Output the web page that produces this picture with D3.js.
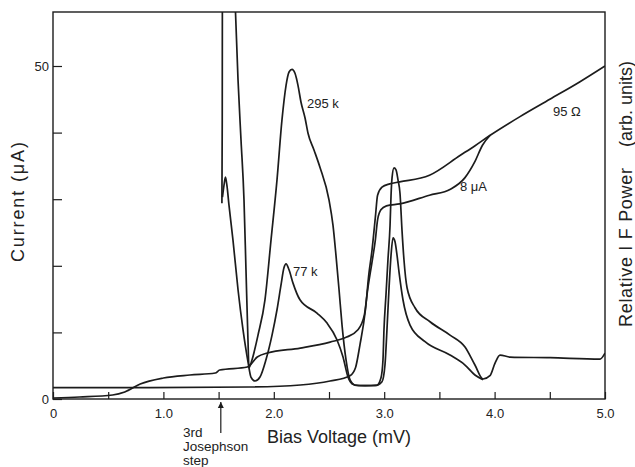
<!DOCTYPE html>
<html>
<head>
<meta charset="utf-8">
<script src="https://cdn.jsdelivr.net/npm/d3@7"></script>
<style>
  body { margin: 0; background: #fff; }
  svg { display: block; }
  text { font-family: 'Liberation Sans', Arial, sans-serif; fill: #222; }
</style>
</head>
<body>
<div id="chart"></div>
<script>
// bias voltage (mV) vs current (uA) / relative IF power
const voltageTicks = [0, 0.5, 1, 1.5, 2, 2.5, 3, 3.5, 4, 4.5, 5];
const voltageLabels = ['0', '', '1.0', '', '2.0', '', '3.0', '', '4.0', '', '5.0'];
const currentTicks = [0, 10, 20, 30, 40, 50];
const currentLabels = ['0', '', '', '', '', '50'];

// unpumped I-V curve
const ivUnpumped = [
  [0, 1.7], [0.88, 1.7], [1.78, 1.8], [2.24, 2.1], [2.51, 2.7], [2.69, 3.5],
  [2.74, 4.7], [2.78, 8.1], [2.83, 13.4], [2.86, 18.6], [2.89, 22.4], [2.92, 27.3],
  [2.94, 30.6], [2.98, 31.8], [3.05, 32.3], [3.14, 32.6], [3.41, 33.6], [3.69, 36.6],
  [3.82, 38.0], [3.96, 39.6], [4.23, 42.4], [4.50, 45.0], [4.77, 47.6], [5.0, 50.0]
];

// pumped I-V curve (8 uA)
const ivPumped = [
  [0, 0.15], [0.24, 0.3], [0.54, 0.6], [0.65, 1.05], [0.79, 2.25], [1.0, 3.15],
  [1.24, 3.6], [1.47, 3.9], [1.51, 4.35], [1.76, 4.8], [1.85, 6.3], [1.94, 6.9],
  [2.24, 7.65], [2.51, 8.55], [2.66, 9.3], [2.76, 10.35], [2.82, 12.6], [2.85, 16.4],
  [2.89, 20.6], [2.92, 23.9], [2.94, 26.9], [2.97, 28.4], [3.02, 29.0], [3.14, 29.3],
  [3.41, 30.6], [3.60, 31.5], [3.73, 33.2], [3.82, 35.6], [3.89, 38.1], [3.96, 39.6]
];

// IF power, 295 K load
const ifPower295 = [
  [1.53, 29.4], [1.533, 41.9], [1.534, 58.1], [1.536, 64.4], [1.64, 64.4], [1.653, 58.1],
  [1.676, 47.9], [1.703, 38.9], [1.73, 29.9], [1.748, 19.4], [1.766, 8.9], [1.775, 4.7],
  [1.803, 5.9], [1.857, 9.6], [1.92, 14.9], [1.975, 23.9], [2.029, 32.9], [2.074, 41.9],
  [2.111, 47.1], [2.138, 49.1], [2.165, 49.5], [2.192, 48.9], [2.219, 47.1], [2.246, 44.6],
  [2.283, 42.2], [2.31, 39.9], [2.364, 37.4], [2.418, 34.8], [2.5, 29.9], [2.536, 26.1],
  [2.563, 21.6], [2.591, 16.4], [2.618, 11.1], [2.654, 5.9], [2.69, 2.9], [2.736, 2.1],
  [2.826, 2.0], [2.935, 2.1], [2.971, 3.2], [2.989, 5.9], [2.998, 10.4], [3.016, 15.6],
  [3.034, 20.9], [3.053, 26.1], [3.062, 30.6], [3.071, 33.2], [3.089, 34.7], [3.107, 34.4],
  [3.125, 32.9], [3.143, 30.9], [3.161, 25.4], [3.179, 20.9], [3.207, 16.7], [3.279, 13.7],
  [3.415, 11.6], [3.596, 9.6], [3.732, 7.8], [3.822, 5.1], [3.895, 3.0], [3.958, 3.5],
  [4.004, 5.4], [4.049, 6.6], [4.139, 6.3], [4.502, 6.2], [4.955, 6.0], [5.0, 6.9]
];

// IF power, 77 K load
const ifPower77 = [
  [1.535, 30.3], [1.549, 32.1], [1.562, 33.3], [1.576, 32.0], [1.594, 29.1], [1.63, 23.9],
  [1.676, 16.4], [1.721, 10.4], [1.766, 5.6], [1.793, 3.3], [1.83, 2.7], [1.875, 3.3],
  [1.929, 5.9], [1.984, 9.6], [2.029, 13.4], [2.065, 17.1], [2.092, 19.7], [2.111, 20.3],
  [2.138, 19.4], [2.174, 17.4], [2.237, 14.9], [2.391, 12.9], [2.482, 11.4], [2.572, 8.9],
  [2.627, 6.3], [2.672, 3.3], [2.708, 2.3], [2.763, 2.0], [2.917, 2.0], [2.98, 2.6],
  [3.007, 5.1], [3.025, 10.4], [3.043, 16.4], [3.062, 21.6], [3.08, 24.2], [3.098, 23.6],
  [3.116, 21.6], [3.134, 19.1], [3.17, 14.9], [3.234, 11.1], [3.37, 8.6], [3.596, 6.6],
  [3.732, 5.1], [3.822, 3.6], [3.895, 2.9]
];

const josephsonStep = 1.52;

const width = 635, height = 467;
const svg = d3.select('#chart').append('svg')
  .attr('width', width)
  .attr('height', height);

const x = d3.scaleLinear().domain([0, 5]).range([53, 605]);
const y = d3.scaleLinear().domain([0, 50]).range([399, 66]);
const plotTop = 12;

const ink = '#1c1c1c';

const defs = svg.append('defs');
defs.append('clipPath').attr('id', 'plot-clip')
  .append('rect')
  .attr('x', x(0)).attr('y', plotTop)
  .attr('width', x(5) - x(0)).attr('height', y(0) - plotTop);

// frame
svg.append('rect')
  .attr('x', x(0)).attr('y', plotTop)
  .attr('width', x(5) - x(0)).attr('height', y(0) - plotTop)
  .attr('fill', 'none')
  .attr('stroke', ink)
  .attr('stroke-width', 1.4);

const xAxis = svg.append('g')
  .attr('transform', `translate(0,${y(0)})`)
  .call(d3.axisBottom(x)
    .tickValues(voltageTicks)
    .tickFormat((d, i) => voltageLabels[i])
    .tickSizeInner(-7)
    .tickSizeOuter(0)
    .tickPadding(10));

const yAxis = svg.append('g')
  .attr('transform', `translate(${x(0)},0)`)
  .call(d3.axisLeft(y)
    .tickValues(currentTicks)
    .tickFormat((d, i) => currentLabels[i])
    .tickSizeInner(-9)
    .tickSizeOuter(0)
    .tickPadding(4));

[xAxis, yAxis].forEach(g => {
  g.select('.domain').remove();
  g.selectAll('line').attr('stroke', ink).attr('stroke-width', 1.2);
  g.selectAll('text')
    .attr('font-size', 13)
    .attr('font-family', "'Liberation Sans', Arial, sans-serif")
    .attr('fill', '#222');
});

const line = d3.line()
  .x(d => x(d[0]))
  .y(d => y(d[1]))
  .curve(d3.curveMonotoneX);

const curves = svg.append('g').attr('clip-path', 'url(#plot-clip)');
[ivUnpumped, ivPumped, ifPower295, ifPower77].forEach(series => {
  curves.append('path')
    .datum(series)
    .attr('d', line)
    .attr('fill', 'none')
    .attr('stroke', ink)
    .attr('stroke-width', 1.7)
    .attr('stroke-linejoin', 'round');
});

// curve labels
const labels = [
  { text: '295 k', x: 307, y: 108 },
  { text: '77 k', x: 293, y: 276 },
  { text: '8 \u03bcA', x: 460, y: 191 },
  { text: '95 \u03a9', x: 553, y: 116 }
];
svg.selectAll('text.curve-label')
  .data(labels)
  .join('text')
    .classed('curve-label', true)
    .attr('x', d => d.x)
    .attr('y', d => d.y)
    .attr('font-size', 13)
    .text(d => d.text);

// 3rd Josephson step arrow
defs.append('marker')
  .attr('id', 'arrow')
  .attr('viewBox', '0 0 10 10')
  .attr('refX', 10).attr('refY', 5)
  .attr('markerWidth', 5).attr('markerHeight', 6)
  .attr('orient', 'auto')
  .append('path')
    .attr('d', 'M0,0L10,5L0,10z')
    .attr('fill', ink);

svg.append('line')
  .attr('x1', x(josephsonStep)).attr('x2', x(josephsonStep))
  .attr('y1', 433).attr('y2', 402)
  .attr('stroke', ink)
  .attr('stroke-width', 1.2)
  .attr('marker-end', 'url(#arrow)');

svg.append('text')
  .attr('x', 183)
  .attr('font-size', 13.5)
  .selectAll('tspan')
  .data(['3rd', 'Josephson', 'step'])
  .join('tspan')
    .attr('x', 183)
    .attr('y', (d, i) => 437 + i * 14)
    .text(d => d);

// axis titles
svg.append('text')
  .attr('x', 267)
  .attr('y', 443)
  .attr('font-size', 18)
  .text('Bias Voltage (mV)');

svg.append('text')
  .attr('transform', 'translate(24,262) rotate(-90)')
  .attr('font-size', 18)
  .attr('textLength', 120)
  .attr('lengthAdjust', 'spacing')
  .text('Current (\u03bcA)');

svg.append('text')
  .attr('transform', 'translate(632,327) rotate(-90)')
  .attr('font-size', 18)
  .attr('textLength', 159)
  .attr('lengthAdjust', 'spacing')
  .text('Relative I F Power');

svg.append('text')
  .attr('transform', 'translate(632,147) rotate(-90)')
  .attr('font-size', 18)
  .text('(arb. units)');
</script>
</body>
</html>
